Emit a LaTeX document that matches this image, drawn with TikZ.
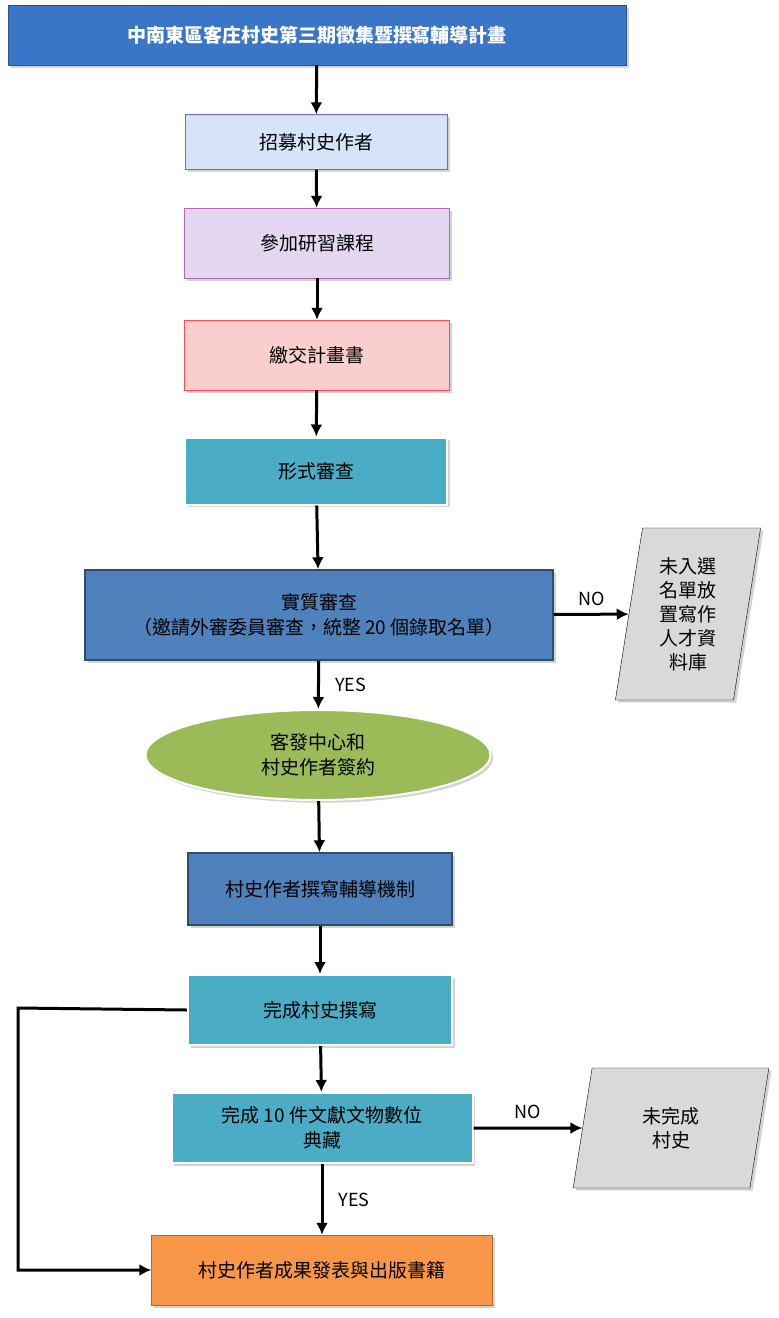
\documentclass[tikz,border=0pt]{standalone}
\usepackage{fontspec}
\setmainfont{Noto Sans CJK TC}
\usetikzlibrary{arrows.meta,positioning,shapes.geometric,shadows}
\definecolor{titleColor}{RGB}{58,118,200}
\definecolor{lightBlue}{RGB}{214,228,250}
\definecolor{lightPurple}{RGB}{226,214,240}
\definecolor{lightRed}{RGB}{250,206,206}
\definecolor{tealColor}{RGB}{75,172,198}
\definecolor{stepBlue}{RGB}{79,129,189}
\definecolor{stepGreen}{RGB}{155,187,89}
\definecolor{stepOrange}{RGB}{247,150,70}
\tikzset{stepbox/.style={draw, align=center, minimum height=55pt, font=\fontsize{19}{25}\selectfont, drop shadow={opacity=.35}}}
\tikzset{paperbox/.style={trapezium, trapezium left angle=81, trapezium right angle=99, draw, fill=gray!30, align=center, font=\fontsize{19}{24}\selectfont, drop shadow={opacity=.35}}}
\tikzset{flow/.style={line width=3pt, -{Latex[length=12pt,width=12pt]}}}
\tikzset{answer/.style={font=\fontsize{18}{22}\selectfont}}

\begin{document}
\begin{tikzpicture}[x=1pt,y=-1pt]
\useasboundingbox (0,0) rectangle (779,1318);
% Nodes
\node (Plan) [stepbox, fill=titleColor, draw=titleColor!70!black, text=white, minimum width=618pt, minimum height=60pt] at (317,35) {\bfseries 中南東區客庄村史第三期徵集暨撰寫輔導計畫};
\node (Recruit) [stepbox, fill=lightBlue, draw=blue!60, minimum width=262pt] at (316,142) {招募村史作者};
\node (Course) [stepbox, fill=lightPurple, draw=violet!60, minimum width=265pt, minimum height=70pt] at (317,243) {參加研習課程};
\node (Proposal) [stepbox, fill=lightRed, draw=red!70, minimum width=265pt, minimum height=70pt] at (317,355) {繳交計畫書};
\node (FormCheck) [stepbox, fill=tealColor, draw=white, line width=2pt, minimum width=262pt, minimum height=67pt] at (316,471) {形式審查};
\node (Review) [stepbox, fill=stepBlue, draw=stepBlue!60!black, line width=1.5pt, minimum width=468pt, minimum height=90pt] at (319,615) {實質審查\\（邀請外審委員審查，統整 20 個錄取名單）};
\node (Reserve) [paperbox, minimum width=138pt, minimum height=172pt] at (688,614) {未入選\\名單放\\置寫作\\人才資\\料庫};
\node (Contract) [ellipse, draw=white, line width=2pt, fill=stepGreen, minimum width=345pt, minimum height=90pt, align=center, font=\fontsize{19}{25}\selectfont, drop shadow={opacity=.35}] at (318,755) {客發中心和\\村史作者簽約};
\node (Mentor) [stepbox, fill=stepBlue, draw=stepBlue!60!black, line width=1.5pt, minimum width=264pt, minimum height=72pt] at (320,889) {村史作者撰寫輔導機制};
\node (Write) [stepbox, fill=tealColor, draw=white, line width=2pt, minimum width=264pt, minimum height=70pt] at (320,1010) {完成村史撰寫};
\node (Archive) [stepbox, fill=tealColor, draw=white, line width=2pt, minimum width=301pt, minimum height=70pt] at (322,1128) {完成 10 件文獻文物數位\\典藏};
\node (Unfinished) [paperbox, minimum width=135pt, minimum height=120pt] at (671,1128) {未完成\\村史};
\node (Publish) [stepbox, fill=stepOrange, draw=stepOrange!70!black, minimum width=341pt, minimum height=70pt] at (322,1270) {村史作者成果發表與出版書籍};
\coordinate (Corner) at (18,1008);

% Connectors
\draw [flow] (Plan) -- (Recruit);
\draw [flow] (Recruit) -- (Course);
\draw [flow] (Course) -- (Proposal);
\draw [flow] (Proposal) -- (FormCheck);
\draw [flow] (FormCheck) -- (Review);
\draw [flow] (Review) -- node[answer, above=4pt] {NO} (Reserve);
\draw [flow] (Review) -- node[answer, right=12pt] {YES} (Contract);
\draw [flow] (Contract) -- (Mentor);
\draw [flow] (Mentor) -- (Write);
\draw [flow] (Write) -- (Archive);
\draw [flow] (Archive) -- node[answer, above=4pt] {NO} (Unfinished);
\draw [flow] (Archive) -- node[answer, right=12pt] {YES} (Publish);
\draw [flow] (Write.west) -- (Corner) |- (Publish.west);
\end{tikzpicture}
\end{document}
